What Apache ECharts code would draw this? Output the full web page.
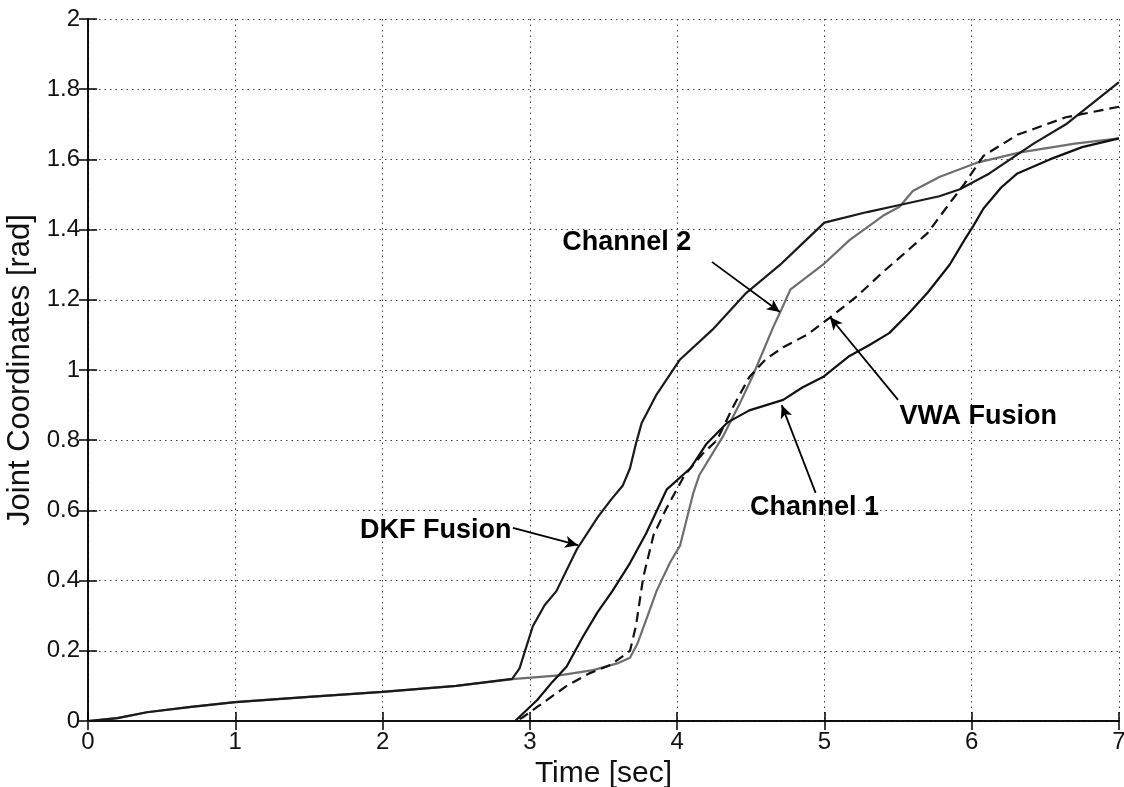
<!DOCTYPE html>
<html>
<head>
<meta charset="utf-8">
<script src="https://cdn.jsdelivr.net/npm/echarts@6/dist/echarts.min.js"></script>
<style>
  html, body { margin: 0; padding: 0; background: #fff; }
  #chart { width: 1124px; height: 787px; }
</style>
</head>
<body>
<div id="chart"></div>
<script>
// Joint trajectory estimates: two raw channels and two fused estimates, [time (s), angle (rad)]
const channel1 = [
  [0, 0], [2.9, 0], [2.95, 0.02], [3.05, 0.06], [3.15, 0.11], [3.25, 0.155], [3.36, 0.24],
  [3.46, 0.31], [3.56, 0.37], [3.68, 0.45], [3.79, 0.535], [3.93, 0.66], [4.09, 0.72],
  [4.2, 0.79], [4.34, 0.85], [4.49, 0.885], [4.72, 0.915], [4.85, 0.95], [4.99, 0.98],
  [5.17, 1.04], [5.3, 1.07], [5.44, 1.105], [5.57, 1.16], [5.7, 1.22], [5.85, 1.3],
  [5.95, 1.37], [6.01, 1.41], [6.08, 1.46], [6.2, 1.52], [6.31, 1.56], [6.53, 1.6],
  [6.75, 1.635], [7, 1.66]
];
const channel2 = [
  [0, 0], [0.2, 0.008], [0.4, 0.025], [0.7, 0.04], [1, 0.054], [1.5, 0.069], [2, 0.083],
  [2.5, 0.1], [2.9, 0.12], [3.2, 0.13], [3.43, 0.145], [3.6, 0.165], [3.68, 0.18],
  [3.73, 0.22], [3.8, 0.3], [3.86, 0.37], [3.95, 0.45], [4.02, 0.5], [4.11, 0.65],
  [4.15, 0.7], [4.31, 0.81], [4.42, 0.9], [4.51, 0.98], [4.58, 1.05], [4.65, 1.12],
  [4.7, 1.165], [4.77, 1.23], [4.99, 1.3], [5.17, 1.37], [5.4, 1.44], [5.51, 1.465],
  [5.6, 1.51], [5.78, 1.55], [6.03, 1.59], [6.33, 1.62], [6.7, 1.645], [7, 1.66]
];
const vwaFusion = [
  [0, 0], [2.9, 0], [2.95, 0.01], [3.05, 0.04], [3.15, 0.07], [3.25, 0.1], [3.4, 0.135],
  [3.55, 0.16], [3.68, 0.2], [3.72, 0.27], [3.77, 0.41], [3.84, 0.53], [3.92, 0.6],
  [4.05, 0.7], [4.17, 0.76], [4.27, 0.8], [4.38, 0.895], [4.49, 0.98], [4.6, 1.03],
  [4.72, 1.065], [4.88, 1.1], [5.04, 1.15], [5.22, 1.21], [5.4, 1.28], [5.51, 1.32],
  [5.7, 1.39], [5.85, 1.475], [5.95, 1.53], [6.08, 1.61], [6.31, 1.67], [6.64, 1.72],
  [7, 1.75]
];
const dkfFusion = [
  [0, 0], [0.2, 0.008], [0.4, 0.025], [0.7, 0.04], [1, 0.054], [1.5, 0.069], [2, 0.083],
  [2.5, 0.1], [2.88, 0.12], [2.93, 0.15], [3.02, 0.27], [3.1, 0.33], [3.18, 0.37],
  [3.32, 0.49], [3.46, 0.58], [3.55, 0.63], [3.63, 0.67], [3.68, 0.72], [3.72, 0.79],
  [3.76, 0.85], [3.86, 0.93], [4.02, 1.03], [4.24, 1.115], [4.47, 1.22], [4.7, 1.3],
  [4.85, 1.36], [5, 1.42], [5.29, 1.45], [5.51, 1.47], [5.78, 1.495], [5.92, 1.515],
  [6.12, 1.56], [6.42, 1.645], [6.64, 1.7], [7, 1.82]
];

// Callout texts: [time, angle] of the left edge / vertical middle of each text
const calloutNames = ['Channel 2', 'VWA Fusion', 'Channel 1', 'DKF Fusion'];
const calloutAnchors = [[3.22, 1.362], [5.51, 0.866], [4.494, 0.607], [1.847, 0.544]];
// Leader arrows: [tail, head] in data coordinates
const calloutArrows = [
  [[4.236, 1.308], [4.698, 1.165]],
  [[5.5, 0.915], [5.037, 1.151]],
  [[4.94, 0.65], [4.71, 0.9]],
  [[2.885, 0.55], [3.327, 0.501]]
];

const xTicks = { min: 0, max: 7, step: 1 };
const yTicks = { min: 0, max: 2, step: 0.2 };

const FONT = '"Liberation Sans", Arial, Helvetica, sans-serif';

const grid = { left: 88, right: 5, top: 19, bottom: 66, containLabel: false, outerBoundsMode: 'none' };

const gridLine = { show: true, lineStyle: { color: '#444', width: 1, type: [1.5, 4] } };
const axisLine = { show: true, lineStyle: { color: '#000', width: 1.5 } };
const innerTick = { show: true, inside: true, length: 9, lineStyle: { color: '#000', width: 1.5 } };

const chart = echarts.init(document.getElementById('chart'), null, { renderer: 'canvas' });

chart.setOption({
  animation: false,
  backgroundColor: '#fff',
  grid: grid,
  xAxis: [
    {
      type: 'value', min: xTicks.min, max: xTicks.max, interval: xTicks.step,
      name: 'Time [sec]', nameLocation: 'middle', nameGap: 33,
      nameTextStyle: { fontFamily: FONT, fontSize: 30, color: '#111' },
      axisLine: axisLine, axisTick: innerTick, splitLine: gridLine,
      axisLabel: { fontFamily: FONT, fontSize: 24, color: '#111', margin: 9 }
    },
    {
      type: 'value', position: 'top', min: xTicks.min, max: xTicks.max, interval: xTicks.step,
      axisLine: axisLine, axisTick: innerTick, splitLine: { show: false },
      axisLabel: { show: false }
    }
  ],
  yAxis: [
    {
      type: 'value', min: yTicks.min, max: yTicks.max, interval: yTicks.step,
      name: 'Joint Coordinates [rad]', nameLocation: 'middle', nameGap: 48,
      nameTextStyle: { fontFamily: FONT, fontSize: 31, color: '#111' },
      axisLine: axisLine, axisTick: innerTick, splitLine: gridLine,
      axisLabel: { fontFamily: FONT, fontSize: 24, color: '#111', margin: 8 }
    },
    {
      type: 'value', position: 'right', min: yTicks.min, max: yTicks.max, interval: yTicks.step,
      axisLine: axisLine, axisTick: innerTick, splitLine: { show: false },
      axisLabel: { show: false }
    }
  ],
  series: [
    {
      name: 'Channel 2', type: 'line', data: channel2, showSymbol: false, symbol: 'none',
      lineStyle: { color: '#6e6e6e', width: 2.2 }, z: 2
    },
    {
      name: 'DKF Fusion', type: 'line', data: dkfFusion, showSymbol: false, symbol: 'none',
      lineStyle: { color: '#1a1a1a', width: 2.2 }, z: 3
    },
    {
      name: 'Channel 1', type: 'line', data: channel1, showSymbol: false, symbol: 'none',
      lineStyle: { color: '#111', width: 2.2 }, z: 3
    },
    {
      name: 'VWA Fusion', type: 'line', data: vwaFusion, showSymbol: false, symbol: 'none',
      lineStyle: { color: '#111', width: 2.2, type: [10, 6] }, z: 4,
      markLine: {
        silent: true, symbol: ['none', 'arrow'], symbolSize: 13,
        label: { show: false },
        itemStyle: { color: '#000' },
        lineStyle: { color: '#000', width: 1.8, type: 'solid' },
        data: calloutArrows.map(a => [
          { coord: a[0], symbol: 'none' },
          { coord: a[1], symbol: 'arrow', symbolSize: [9, 13] }
        ])
      }
    },
    {
      name: 'callouts', type: 'scatter', symbolSize: 0, silent: true, z: 10,
      itemStyle: { opacity: 1 },
      data: calloutNames.map((n, i) => ({ name: n, value: calloutAnchors[i] })),
      label: {
        show: true, position: 'right', distance: 0, formatter: '{b}', opacity: 1,
        fontFamily: FONT, fontSize: 27, fontWeight: 'bold', color: '#000'
      }
    }
  ]
});
</script>
</body>
</html>
